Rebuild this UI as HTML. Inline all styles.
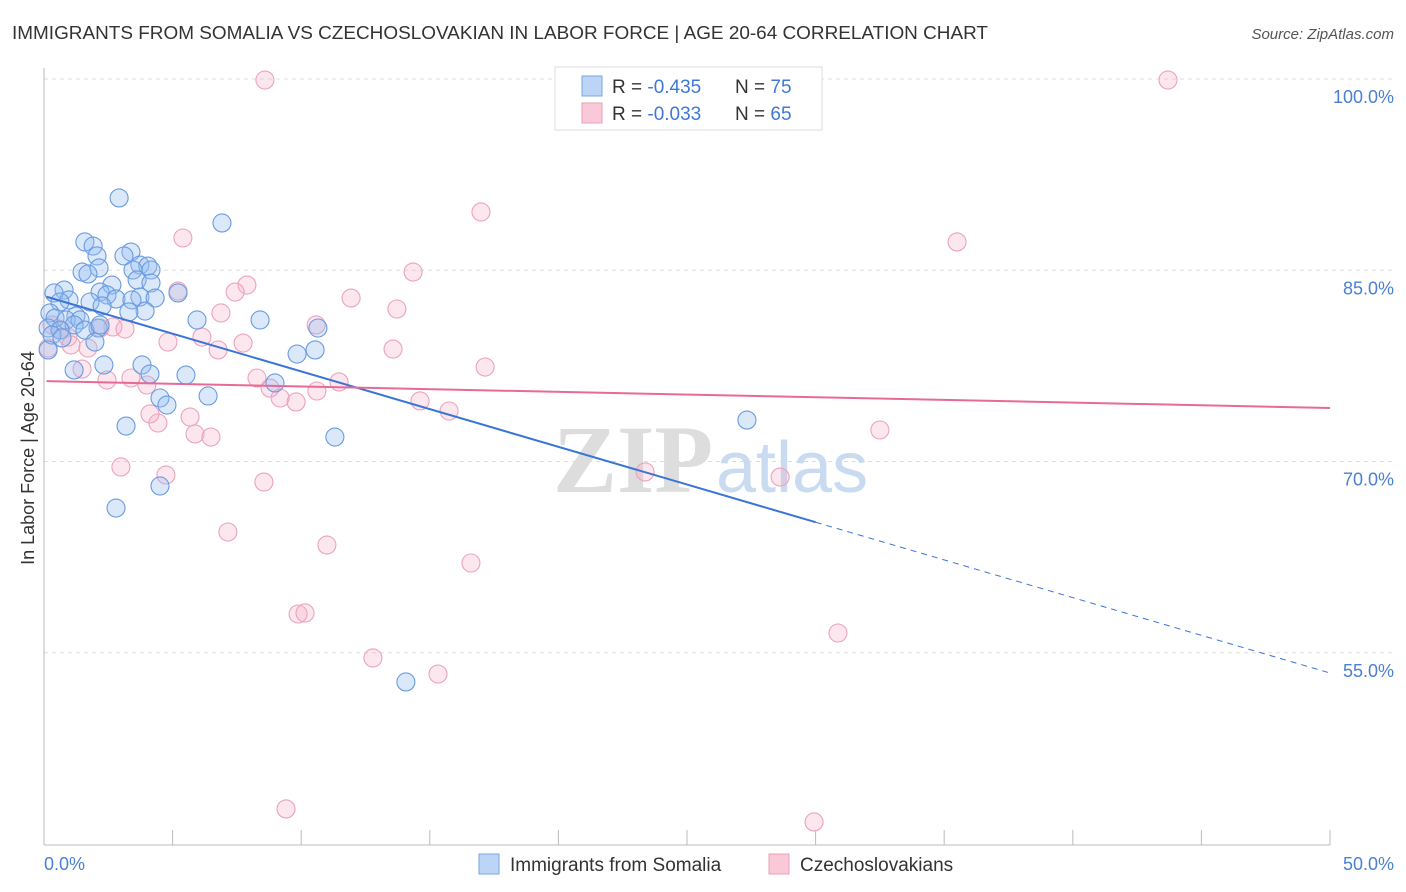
<!DOCTYPE html>
<html><head><meta charset="utf-8"><style>
body{margin:0;background:#fff;font-family:"Liberation Sans",sans-serif;}
svg{display:block}
</style></head><body>
<svg id="chart" width="1406" height="892">
<text x="12" y="39" font-size="18" fill="#333" textLength="976" lengthAdjust="spacingAndGlyphs">IMMIGRANTS FROM SOMALIA VS CZECHOSLOVAKIAN IN LABOR FORCE | AGE 20-64 CORRELATION CHART</text>
<text x="1394" y="39" font-size="15" fill="#555" font-style="italic" text-anchor="end">Source: ZipAtlas.com</text>
<g id="grid"></g>
<g id="wm">
<text x="553" y="492" font-size="96" font-weight="bold" fill="#ddd" font-family="Liberation Serif,serif">ZIP</text>
<text x="716" y="492" font-size="72" fill="#c8dbf0">atlas</text></g>
<line x1="44" y1="68" x2="44" y2="845" stroke="#bbb"/>
<line x1="44" y1="845" x2="1330" y2="845" stroke="#bbb"/>
<g id="ticks"></g>
<g id="pts"></g>
<g id="trends"></g>
<text x="34" y="458" font-size="18" fill="#333" text-anchor="middle" transform="rotate(-90 34 458)">In Labor Force | Age 20-64</text>
<text x="44" y="870" font-size="18" fill="#4a7fd6">0.0%</text>
<text x="1394" y="870" font-size="18" fill="#4a7fd6" text-anchor="end">50.0%</text>
<g>
<rect x="555" y="67" width="267" height="63" fill="#fff" stroke="#ddd"/>
<rect x="582" y="76" width="20" height="20" fill="#bcd4f6" stroke="#7aa6e0"/>
<rect x="582" y="103" width="20" height="20" fill="#f9c9d8" stroke="#eaa0ba"/>
<text x="612" y="93" font-size="19" fill="#333">R = <tspan fill="#3f78d8">-0.435</tspan></text>
<text x="735" y="93" font-size="19" fill="#333">N = <tspan fill="#3f78d8">75</tspan></text>
<text x="612" y="120" font-size="19" fill="#333">R = <tspan fill="#3f78d8">-0.033</tspan></text>
<text x="735" y="120" font-size="19" fill="#333">N = <tspan fill="#3f78d8">65</tspan></text>
</g>
<g>
<rect x="479" y="854" width="20" height="20" fill="#bcd4f6" stroke="#7aa6e0"/>
<text x="510" y="871" font-size="19" fill="#333">Immigrants from Somalia</text>
<rect x="769" y="854" width="20" height="20" fill="#f9c9d8" stroke="#eaa0ba"/>
<text x="800" y="871" font-size="19" fill="#333">Czechoslovakians</text>
</g>
</svg>
<script>
const yTicks=[100,85,70,55];
const xTickVals=[0,5,10,15,20,25,30,35,40,45,50];
const blueX=[2.92,6.92,1.59,1.91,3.38,2.06,3.11,3.73,4.04,2.14,3.46,4.16,1.48,1.71,0.78,0.39,2.64,2.18,2.45,3.62,4.16,5.21,3.73,4.32,2.80,0.97,0.62,1.79,3.42,2.26,3.93,3.30,0.23,1.24,0.43,0.86,1.40,5.95,8.40,0.16,1.17,0.62,2.10,1.59,0.31,1.98,10.65,10.54,9.84,2.33,3.81,4.12,1.17,5.52,8.98,6.38,4.51,4.78,11.31,3.19,27.33,4.51,2.80,14.07,0.16,0.70,2.18];
const blueY=[90.67,88.71,87.22,86.90,86.43,86.12,86.12,85.41,85.33,85.18,85.02,85.02,84.86,84.71,83.45,83.22,83.84,83.29,83.06,84.24,84.00,83.22,82.90,82.82,82.75,82.67,82.51,82.51,82.67,82.20,81.80,81.73,81.65,81.41,81.25,81.10,81.10,81.10,81.10,80.47,80.71,80.31,80.47,80.31,79.92,79.37,80.47,78.75,78.43,77.57,77.57,76.86,77.18,76.78,76.16,75.14,74.98,74.43,71.92,72.78,73.25,68.08,66.35,52.71,78.75,79.69,80.71];
const pinkX=[8.59,43.70,16.99,5.40,35.50,14.35,7.89,7.43,5.21,11.94,13.72,6.88,10.58,2.68,3.15,2.18,0.66,0.93,4.82,1.05,1.71,7.74,6.14,6.77,13.57,17.15,1.48,3.38,2.45,8.28,4.00,11.47,8.79,10.61,9.18,9.80,14.62,4.12,5.68,4.43,15.75,32.50,5.87,6.49,2.99,4.74,8.55,23.37,28.62,7.15,11.00,16.60,9.88,10.15,30.87,12.79,15.32,9.41,29.94,0.16,0.31];
const pinkY=[99.92,99.92,89.57,87.53,87.22,84.86,83.84,83.29,83.37,82.82,81.96,81.65,80.71,80.55,80.39,80.47,80.31,79.76,79.37,79.14,78.90,79.29,79.76,78.75,78.82,77.41,77.25,76.55,76.39,76.55,76.00,76.24,75.76,75.53,74.98,74.67,74.75,73.73,73.49,73.02,73.96,72.47,72.16,71.92,69.57,68.94,68.39,69.18,68.78,64.47,63.45,62.04,58.04,58.12,56.55,54.59,53.33,42.75,41.73,78.90,80.71];
const blueTrend=[82.98,53.41];
const pinkTrend=[76.3,74.2];
const blueSolidEnd=30;
const NS='http://www.w3.org/2000/svg';
const sx=v=>44+v*25.72;
const sy=v=>79+(100-v)*12.75;
function mk(t,a,p){const e=document.createElementNS(NS,t);for(const k in a)e.setAttribute(k,a[k]);p.appendChild(e);return e;}
const grid=document.getElementById('grid');
yTicks.forEach(t=>{
  const l=mk('line',{x1:44,x2:1394,y1:sy(t),y2:sy(t),stroke:'#ddd','stroke-dasharray':'4,4'},grid);
  
  
  const tx=mk('text',{x:1394,y:sy(t)+24,'font-size':18,fill:'#4a7fd6','text-anchor':'end'},grid);
  tx.textContent=t.toFixed(1)+'%';
  
  
});
const ticks=document.getElementById('ticks');
xTickVals.forEach(v=>{
  const l=mk('line',{x1:sx(v),x2:sx(v),y1:830,y2:845,stroke:'#bbb'},ticks);
  
  
});
const pts=document.getElementById('pts');
pinkX.forEach((x,i)=>{
  const c=mk('circle',{cx:sx(x),cy:sy(pinkY[i]),r:9,fill:'rgba(244,175,198,0.3)',stroke:'#eba3bb','stroke-width':1.1},pts);
  
  
});
blueX.forEach((x,i)=>{
  const c=mk('circle',{cx:sx(x),cy:sy(blueY[i]),r:9,fill:'rgba(150,190,240,0.35)',stroke:'#6a9be0','stroke-width':1.1},pts);
  
  
});
const tr=document.getElementById('trends');
const bAt=x=>blueTrend[0]+(blueTrend[1]-blueTrend[0])*x/50;
let l1=mk('line',{x1:sx(0.1),y1:sy(bAt(0.1)),x2:sx(blueSolidEnd),y2:sy(bAt(blueSolidEnd)),stroke:'#3a75d6','stroke-width':2},tr);


let l2=mk('line',{x1:sx(blueSolidEnd),y1:sy(bAt(blueSolidEnd)),x2:sx(50),y2:sy(bAt(50)),stroke:'#3a75d6','stroke-width':1,'stroke-dasharray':'6,5'},tr);


let l3=mk('line',{x1:sx(0.1),y1:sy(pinkTrend[0]),x2:sx(50),y2:sy(pinkTrend[1]),stroke:'#e86a94','stroke-width':2},tr);


</script>
</body></html>
